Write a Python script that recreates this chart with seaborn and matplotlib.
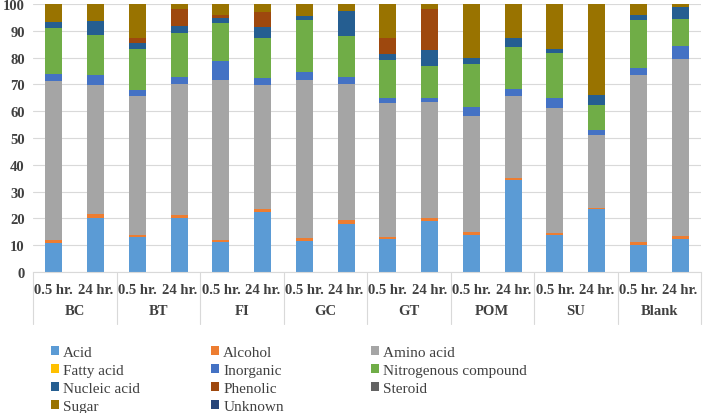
import numpy as np
import pandas as pd
import matplotlib
matplotlib.use("Agg")
import matplotlib.pyplot as plt
from matplotlib.patches import Patch
import seaborn as sns

groups = ["BC", "BT", "FI", "GC", "GT", "POM", "SU", "Blank"]
times = ["0.5 hr.", "24 hr."]

compounds = ["Acid", "Alcohol", "Amino acid", "Fatty acid", "Inorganic",
             "Nitrogenous compound", "Nucleic acid", "Phenolic", "Steroid",
             "Sugar", "Unknown"]

# order: BC 0.5, BC 24, BT 0.5, BT 24, FI..., GC..., GT..., POM..., SU..., Blank...
acid        = [10.7, 20.3, 13.0, 20.2, 11.3, 22.5, 11.7, 17.9, 12.2, 19.1, 13.8, 34.4, 13.8, 23.4, 10.0, 12.5]
alcohol     = [1.1, 1.5, 0.8, 1.0, 0.7, 0.9, 1.1, 1.5, 0.8, 0.9, 1.0, 0.8, 0.9, 0.5, 1.2, 0.9]
amino_acid  = [59.3, 47.9, 52.0, 48.9, 59.6, 46.2, 58.8, 50.8, 50.0, 43.3, 43.5, 30.6, 46.4, 27.4, 62.3, 66.1]
fatty_acid  = [0.0] * 16
inorganic   = [2.9, 3.8, 2.1, 2.8, 7.1, 2.9, 3.0, 2.7, 2.1, 1.8, 3.1, 2.4, 3.7, 1.8, 2.8, 4.9]
nitrogenous = [16.9, 14.9, 15.3, 16.1, 14.2, 14.7, 19.3, 15.0, 14.1, 11.9, 16.2, 15.9, 16.9, 9.4, 17.8, 10.0]
nucleic     = [2.3, 5.4, 2.1, 2.9, 1.9, 4.1, 1.5, 9.6, 2.1, 5.9, 2.1, 3.1, 1.5, 3.4, 1.8, 4.4]
phenolic    = [0.0, 0.0, 2.2, 6.2, 1.2, 5.8, 0.0, 0.0, 5.9, 15.2, 0.0, 0.0, 0.0, 0.0, 0.0, 0.0]
steroid     = [0.0] * 16
sugar       = [6.8, 6.2, 12.5, 1.9, 4.0, 2.9, 4.6, 2.5, 12.8, 1.9, 20.3, 12.8, 16.8, 34.1, 4.1, 1.2]
unknown     = [0.0] * 16

series = [acid, alcohol, amino_acid, fatty_acid, inorganic, nitrogenous,
          nucleic, phenolic, steroid, sugar, unknown]
colors = ["#5B9BD5", "#ED7D31", "#A5A5A5", "#FFC000", "#4472C4", "#70AD47",
          "#255E91", "#9E480E", "#636363", "#997300", "#264478"]

yticks = list(range(0, 101, 10))

sns.set_theme(style="white")
plt.rcParams["font.family"] = ["Liberation Serif", "DejaVu Serif"]

W, H = 703, 414
fig = plt.figure(figsize=(W / 100, H / 100), dpi=100)
ax = fig.add_axes([33 / W, 141 / H, 668 / W, 268 / H])

cats = [f"{g}|{t}" for g in groups for t in times]
base = np.zeros(len(cats))
for name, vals, col in zip(compounds, series, colors):
    vals = np.asarray(vals, dtype=float)
    sns.barplot(x=cats, y=vals, order=cats, bottom=base, color=col,
                saturation=1, width=0.41, errorbar=None, linewidth=0, ax=ax)
    base = base + vals

ax.set_xlim(-0.5, len(cats) - 0.5)
ax.set_ylim(0, 100)
ax.set_yticks(yticks)
ax.set_yticklabels([str(v) for v in yticks], fontsize=10.5, fontweight="bold",
                   color="#404040")
ax.set_xticks([])
ax.set_xlabel("")
ax.set_ylabel("")
ax.tick_params(axis="y", length=0, pad=6)
ax.yaxis.grid(True, color="#D9D9D9", lw=0.8)
ax.set_axisbelow(True)
for s in ["top", "right", "left"]:
    ax.spines[s].set_visible(False)
ax.spines["bottom"].set_color("#D9D9D9")
ax.spines["bottom"].set_linewidth(0.8)

xt = ax.get_xaxis_transform()
for i, c in enumerate(cats):
    ax.text(i, -0.065, c.split("|")[1], transform=xt, ha="center", va="center",
            fontsize=10.5, fontweight="bold", color="#404040")
for j, g in enumerate(groups):
    ax.text(2 * j + 0.5, -0.142, g, transform=xt, ha="center", va="center",
            fontsize=10.5, fontweight="bold", color="#404040")
for k in range(len(groups) + 1):
    x = -0.5 + 2 * k
    ax.plot([x, x], [0, -0.194], transform=xt, clip_on=False,
            color="#D9D9D9", lw=0.8)

handles = [Patch(facecolor=c, edgecolor="none", label=n)
           for n, c in zip(compounds, colors)]
cols_idx = [[0, 3, 6, 9], [1, 4, 7, 10], [2, 5, 8]]
xs = [51, 211, 371]
for xi, idx in zip(xs, cols_idx):
    leg = fig.legend(handles=[handles[i] for i in idx], loc="upper left",
                     bbox_to_anchor=(xi / W, 1 - 347 / H), frameon=False,
                     fontsize=11, handlelength=0.5, handleheight=0.5,
                     handletextpad=0.3, labelspacing=0.33, borderpad=0,
                     borderaxespad=0)
    for t in leg.get_texts():
        t.set_color("#404040")

fig.savefig("out.png", dpi=100)
